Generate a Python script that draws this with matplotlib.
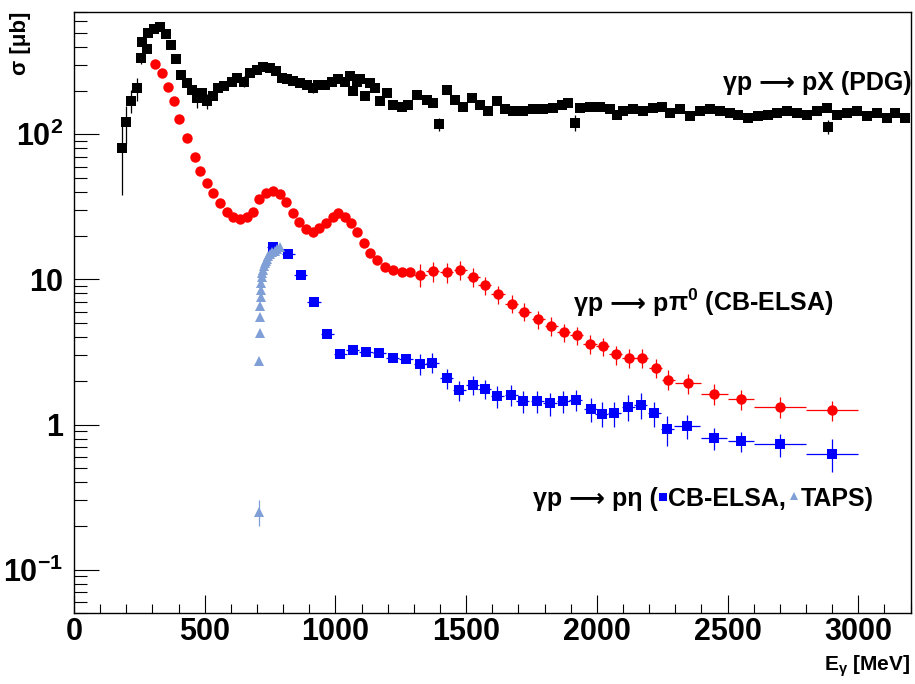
import numpy as np
import matplotlib
matplotlib.use("Agg")
import matplotlib.pyplot as plt
from matplotlib.ticker import MultipleLocator, FixedLocator, FixedFormatter, LogLocator, NullFormatter

plt.rcParams['font.family'] = ['Liberation Sans', 'DejaVu Sans']
plt.rcParams['font.weight'] = 'bold'
plt.rcParams['mathtext.fontset'] = 'custom'
plt.rcParams['mathtext.rm'] = 'Liberation Sans:bold'
plt.rcParams['mathtext.it'] = 'Liberation Sans:bold'
plt.rcParams['mathtext.bf'] = 'Liberation Sans:bold'
plt.rcParams['mathtext.default'] = 'rm'

# gamma p -> p X (PDG total photoabsorption)
pdg_E = [182, 198, 218, 240, 255, 259, 278, 284, 306, 329, 351, 370, 390, 408, 431, 450, 469, 488,
         510, 533, 552, 574, 603, 622, 650, 673, 699, 724, 750, 773, 794, 814, 839, 865, 890, 916,
         935, 960, 986, 1011, 1037, 1056, 1069, 1081, 1094, 1113, 1132, 1152, 1171, 1196, 1222,
         1254, 1279, 1311, 1349, 1375, 1398, 1426, 1458, 1489, 1521, 1553, 1585, 1617, 1649, 1681,
         1719, 1757, 1795, 1834, 1866, 1891, 1917, 1936, 1974, 2012, 2051, 2076, 2101, 2140, 2178,
         2216, 2248, 2280, 2318, 2357, 2395, 2433, 2471, 2510, 2541, 2580, 2618, 2656, 2688, 2726,
         2765, 2803, 2841, 2879, 2886, 2918, 2956, 2994, 3033, 3071, 3109, 3141, 3179]
pdg_sig = [80, 121, 171, 207, 336, 433, 389, 500, 533, 550, 495, 414, 331, 257, 226, 203, 178, 193,
           169, 183, 208, 216, 231, 245, 231, 265, 279, 291, 287, 272, 245, 239, 232, 226, 220, 208,
           220, 220, 228, 239, 231, 251, 198, 231, 240, 183, 226, 208, 169, 193, 160,
           155, 160, 187, 173, 164, 117, 203, 173, 155, 178, 160, 145, 169, 150, 145,
           145, 150, 150, 152, 160, 164, 120, 152, 155, 155, 150, 135, 145, 150, 145,
           152, 155, 140, 150, 133, 145, 150, 145, 140, 135, 130, 133, 135, 140, 145,
           140, 135, 145, 152, 113, 135, 140, 145, 133, 140, 130, 140, 130]
pdg_err = [42, 35, 30, 38, 30, 20, 15, 15, 15, 15, 15, 12, 12, 10, 10, 12, 25, 10,
           20, 10, 10, 10, 10, 10, 20, 10, 10, 10, 10, 10, 12, 8, 8, 8, 8, 15,
           8, 8, 8, 8, 8, 8, 8, 8, 8, 8, 8, 8, 8, 8, 8,
           8, 8, 8, 8, 8, 12, 8, 8, 8, 8, 8, 8, 8, 8, 8,
           6, 6, 6, 6, 6, 6, 15, 6, 6, 6, 6, 6, 6, 6, 6,
           6, 6, 6, 6, 6, 6, 6, 6, 6, 6, 6, 6, 6, 6, 6,
           6, 6, 6, 6, 12, 6, 6, 6, 6, 6, 6, 6, 6]

# gamma p -> p pi0 (CB-ELSA)
pi0_E = [310, 335, 358, 383, 403, 432, 463, 482, 508, 533, 559, 587, 610, 635, 661, 686, 709, 735,
         760, 788, 811, 837, 862, 888, 913, 939, 964, 990, 1011, 1037, 1058, 1084, 1109, 1132, 1158,
         1190, 1222, 1254, 1285, 1324, 1372, 1425, 1477, 1528, 1572, 1622, 1674, 1722, 1776, 1825,
         1874, 1923, 1974, 2022, 2072, 2123, 2172, 2225, 2274, 2348, 2450, 2550, 2700, 2900]
pi0_sig = [307, 265, 213, 169, 128, 94, 69.5, 56, 46, 39.3, 33.5, 29.3, 27, 25.9, 26.8, 29.3, 35.6, 39.7,
           41, 38.8, 33.9, 28.8, 25, 22.2, 21.3, 22.5, 24.6, 27, 28.5, 27, 24.3, 21.1, 17.9, 15.1, 13.6,
           12.1, 11.6, 11.3, 11.3, 10.8, 11.4, 11.2, 11.6, 10.4, 9.1, 7.9, 6.8, 6.0, 5.3, 4.8,
           4.34, 4.12, 3.6, 3.45, 3.04, 2.89, 2.89, 2.46, 2.04, 1.93, 1.63, 1.50, 1.33, 1.25]
pi0_yerr = [6, 5, 4, 3, 2.5, 2, 1.5, 1.2, 1, 0.8, 0.7, 0.6, 0.5, 0.5, 0.5, 0.5, 0.7, 0.8,
            0.8, 0.8, 0.7, 0.6, 0.5, 0.4, 0.4, 0.4, 0.5, 0.5, 0.5, 0.5, 0.5, 0.4, 0.4, 0.3, 0.3,
            0.3, 0.3, 0.3, 0.3, 1.9, 1.8, 1.7, 1.7, 1.5, 1.3, 1.1, 0.95, 0.85, 0.75, 0.7,
            0.62, 0.6, 0.52, 0.5, 0.45, 0.43, 0.42, 0.38, 0.32, 0.3, 0.26, 0.24, 0.22, 0.2]
pi0_xerr = [0] * 39 + [25] * 20 + [50, 50, 50, 100, 100]

# gamma p -> p eta (CB-ELSA)
eta_E = [763, 820, 868, 918, 969, 1018, 1066, 1117, 1168, 1219, 1270, 1324, 1370, 1426, 1474, 1526,
         1571, 1620, 1672, 1716, 1772, 1821, 1872, 1920, 1977, 2019, 2067, 2121, 2168, 2219, 2270,
         2346, 2448, 2550, 2700, 2900]
eta_sig = [16.6, 14.9, 10.7, 7.0, 4.23, 3.08, 3.24, 3.16, 3.1, 2.87, 2.84, 2.62, 2.67, 2.08, 1.72, 1.88,
           1.76, 1.57, 1.60, 1.45, 1.45, 1.40, 1.45, 1.48, 1.28, 1.19, 1.20, 1.32, 1.37, 1.20, 0.93,
           0.98, 0.81, 0.77, 0.73, 0.63]
eta_yerr = [0.5, 0.45, 0.3, 0.2, 0.12, 0.1, 0.1, 0.1, 0.1, 0.1, 0.15, 0.42, 0.42, 0.33, 0.26, 0.29,
            0.27, 0.27, 0.26, 0.25, 0.25, 0.25, 0.25, 0.25, 0.24, 0.23, 0.24, 0.27, 0.27, 0.24, 0.22,
            0.19, 0.14, 0.12, 0.13, 0.16]
eta_xerr = [25] * 31 + [50, 50, 50, 100, 100]

# gamma p -> p eta (TAPS)
taps_E = [707, 709, 711, 712, 713, 714, 715, 717, 719, 721, 723, 726, 729, 733, 738, 744, 751, 759,
          768, 778, 789]
taps_sig = [0.25, 2.74, 4.27, 5.5, 6.6, 7.6, 8.4, 9.4, 10.4, 11.0, 11.6, 12.3, 12.9, 13.5, 13.9, 14.5,
            14.9, 15.5, 15.8, 16.3, 16.6]
taps_err = [0.05, 0.1, 0.12, 0.15, 0.15, 0.2, 0.2, 0.2, 0.2, 0.2, 0.2, 0.2, 0.2, 0.2, 0.2, 0.2,
            0.2, 0.2, 0.2, 0.2, 0.2]

black = 'black'
red = '#ff0000'
blue = '#0000ff'
lblue = '#7f9fd6'
arrow = '⟶'

fig = plt.figure(figsize=(9.15, 6.84), dpi=100)
ax = fig.add_axes([74 / 915, 1 - 613.3 / 684, (910.5 - 74) / 915, (613.3 - 11.7) / 684])

ax.errorbar(pdg_E, pdg_sig, yerr=pdg_err, fmt='s', color=black, ms=7.8, mew=0,
            elinewidth=0.9, capsize=2.5, capthick=0.9)
ax.errorbar(pi0_E, pi0_sig, yerr=pi0_yerr, xerr=pi0_xerr, fmt='o', color=red, ms=7.5, mew=0,
            elinewidth=0.9, capsize=2.5, capthick=0.9)
ax.errorbar(eta_E, eta_sig, yerr=eta_yerr, xerr=eta_xerr, fmt='s', color=blue, ms=7.5, mew=0,
            elinewidth=0.9, capsize=2.5, capthick=0.9)
ax.errorbar(taps_E, taps_sig, yerr=taps_err, fmt='^', color=lblue, ms=6.5, mew=0,
            elinewidth=0.9, capsize=2.5, capthick=0.9)

ax.set_yscale('log')
ax.set_xlim(0, 3200)
ax.set_ylim(0.05, 700)

ax.xaxis.set_major_locator(MultipleLocator(500))
ax.xaxis.set_minor_locator(MultipleLocator(100))
ax.yaxis.set_major_locator(FixedLocator([0.1, 1, 10, 100]))
ax.yaxis.set_major_formatter(FixedFormatter([r'$10^{-1}$', '1', '10', r'$10^{2}$']))
ax.yaxis.set_minor_locator(LogLocator(base=10, subs=np.arange(2, 10)))
ax.yaxis.set_minor_formatter(NullFormatter())

ax.tick_params(axis='x', which='major', direction='in', length=13, width=0.8, labelsize=22, pad=3)
ax.tick_params(axis='x', which='minor', direction='in', length=6.5, width=0.8)
ax.tick_params(axis='y', which='major', direction='in', length=18, width=0.8, labelsize=22, pad=8)
ax.tick_params(axis='y', which='minor', direction='in', length=9, width=0.8)
for lab in ax.get_xticklabels() + ax.get_yticklabels():
    lab.set_fontweight('bold')
for sp in ax.spines.values():
    sp.set_linewidth(1.0)

# axis titles
fig.text(0.022, 0.983, 'σ [μb]', rotation=90, ha='center', va='top', fontsize=16, fontweight='bold')
fig.text(0.995, 0.008, r'E$_{\gamma}$ [MeV]', ha='right', va='bottom', fontsize=15, fontweight='bold')

# reaction labels
ax.text(3205, 203, 'γp ' + arrow + ' pX (PDG)', ha='right', va='baseline', fontsize=18,
        fontweight='bold')

fig.canvas.draw()
r = fig.canvas.get_renderer()
inv = ax.transData.inverted()

y_pi = 6.04
p2 = ax.text(2904, y_pi, r'$\pi^{0}$ (CB-ELSA)', ha='right', va='baseline', fontsize=18,
             fontweight='bold')
bbp = p2.get_window_extent(renderer=r)
xp1, _ = inv.transform((bbp.x0, 0))
ax.text(xp1, y_pi, 'γp ' + arrow + ' p', ha='right', va='baseline', fontsize=18, fontweight='bold')

y0 = 0.275
t1 = ax.text(1757, y0, 'γp ' + arrow + ' pη (', ha='left', va='baseline', fontsize=18, fontweight='bold')
bb = t1.get_window_extent(renderer=r)
ybase = ax.transData.transform((0, y0))[1]
xm1, ym1 = inv.transform((bb.x1 + 5, ybase + 9))
ax.plot([xm1], [ym1], 's', color=blue, ms=6, mew=0, clip_on=False)
xt2, _ = inv.transform((bb.x1 + 10, ybase))
t2 = ax.text(xt2, y0, 'CB-ELSA,', ha='left', va='baseline', fontsize=18, fontweight='bold')
bb2 = t2.get_window_extent(renderer=r)
xm2, ym2 = inv.transform((bb2.x1 + 8, ybase + 10))
ax.plot([xm2], [ym2], '^', color=lblue, ms=6, mew=0, clip_on=False)
xt3, _ = inv.transform((bb2.x1 + 15, ybase))
ax.text(xt3, y0, 'TAPS)', ha='left', va='baseline', fontsize=18, fontweight='bold')

fig.savefig('out.png', dpi=100)
